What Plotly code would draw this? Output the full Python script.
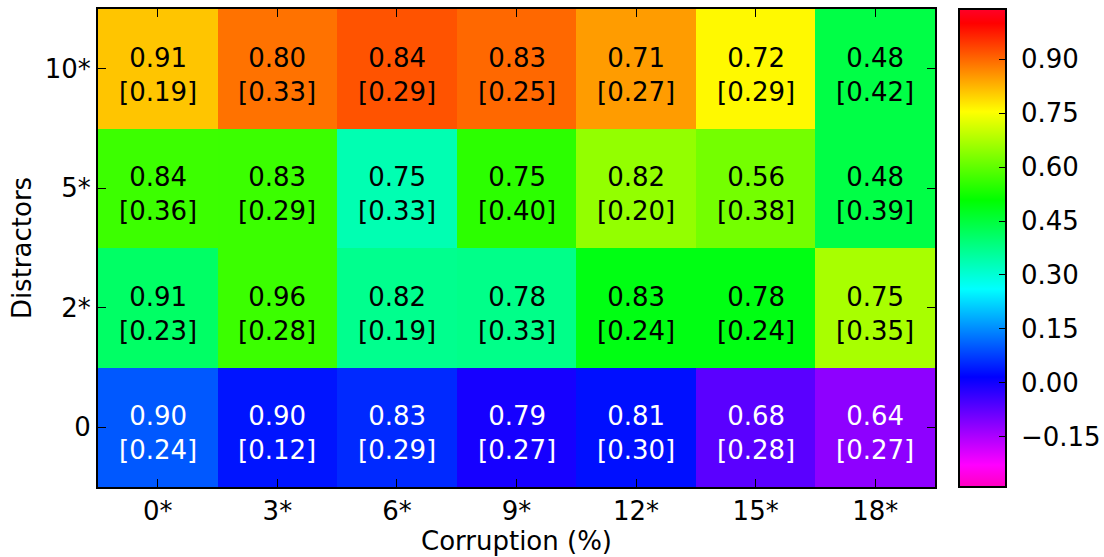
import plotly.graph_objects as go

corruption = ["0*", "3*", "6*", "9*", "12*", "15*", "18*"]
distractors = ["0", "2*", "5*", "10*"]  # bottom to top

# colour value of each cell (rows bottom->top)
color_vals = [
    [0.10, 0.035, 0.055, -0.005, 0.03, -0.07, -0.12],
    [0.41, 0.565, 0.37, 0.375, 0.49, 0.49, 0.67],
    [0.566, 0.565, 0.335, 0.55, 0.65, 0.62, 0.44],
    [0.81, 0.89, 0.92, 0.90, 0.85, 0.76, 0.44],
]
# text values
main_vals = [
    [0.90, 0.90, 0.83, 0.79, 0.81, 0.68, 0.64],
    [0.91, 0.96, 0.82, 0.78, 0.83, 0.78, 0.75],
    [0.84, 0.83, 0.75, 0.75, 0.82, 0.56, 0.48],
    [0.91, 0.80, 0.84, 0.83, 0.71, 0.72, 0.48],
]
bracket_vals = [
    [0.24, 0.12, 0.29, 0.27, 0.30, 0.28, 0.27],
    [0.23, 0.28, 0.19, 0.33, 0.24, 0.24, 0.35],
    [0.36, 0.29, 0.33, 0.40, 0.20, 0.38, 0.39],
    [0.19, 0.33, 0.29, 0.25, 0.27, 0.29, 0.42],
]
cbar_ticks = [-0.15, 0.0, 0.15, 0.30, 0.45, 0.60, 0.75, 0.90]
cbar_labels = [" " + f"{v:.2f}".replace("-", "\u2212") for v in cbar_ticks]
zmin, zmax = -0.29, 1.04

# matplotlib gist_rainbow reversed
colorscale = [
    [0.0, "rgb(255,0,191)"],
    [0.046, "rgb(255,0,255)"],
    [0.23, "rgb(0,0,255)"],
    [0.414, "rgb(0,255,255)"],
    [0.6, "rgb(0,255,0)"],
    [0.785, "rgb(255,255,0)"],
    [0.97, "rgb(255,0,0)"],
    [1.0, "rgb(255,0,41)"],
]

FONT = "DejaVu Sans"
FS = 26

xi = list(range(len(corruption)))
yi = list(range(len(distractors)))

fig = go.Figure()
fig.add_trace(go.Heatmap(
    z=color_vals, x=xi, y=yi,
    zmin=zmin, zmax=zmax, colorscale=colorscale,
    xgap=0, ygap=0,
    colorbar=dict(
        x=(959 - 98) / 837, xanchor="left", xpad=0,
        y=0.5, yanchor="middle", len=1.0, lenmode="fraction", ypad=0,
        thickness=47, thicknessmode="pixels",
        outlinewidth=2, outlinecolor="black",
        tickvals=cbar_ticks, ticktext=cbar_labels,
        ticks="inside", ticklen=8, tickwidth=1, tickcolor="black",
        tickfont=dict(family=FONT, size=FS, color="black"),
    ),
    hoverinfo="skip",
))

annotations = []
for r, row in enumerate(main_vals):
    for c, v in enumerate(row):
        col = "white" if color_vals[r][c] < 0.2 else "black"
        annotations.append(dict(
            x=c, y=r, xref="x", yref="y", yshift=-6,
            text=f"{v:.2f}<br>[{bracket_vals[r][c]:.2f}]",
            showarrow=False,
            font=dict(family=FONT, size=FS, color=col),
        ))

axis_common = dict(
    showline=True, linewidth=2, linecolor="black", mirror="allticks",
    ticks="inside", ticklen=8, tickwidth=1, tickcolor="black",
    showgrid=False, zeroline=False,
    tickfont=dict(family=FONT, size=FS, color="black"),
)

fig.update_layout(
    width=1104, height=557,
    margin=dict(l=98, r=169, t=9, b=70, autoexpand=False),
    paper_bgcolor="white", plot_bgcolor="white",
    font=dict(family=FONT, size=FS, color="black"),
    annotations=annotations,
    xaxis=dict(
        range=[-0.5, len(corruption) - 0.5],
        tickvals=xi, ticktext=corruption,
        title=dict(text="Corruption (%)", font=dict(family=FONT, size=FS), standoff=2),
        **axis_common,
    ),
    yaxis=dict(
        range=[-0.5, len(distractors) - 0.5],
        tickvals=yi, ticktext=distractors,
        title=dict(text="Distractors", font=dict(family=FONT, size=FS), standoff=6),
        **axis_common,
    ),
)

fig.write_html("out.html")
